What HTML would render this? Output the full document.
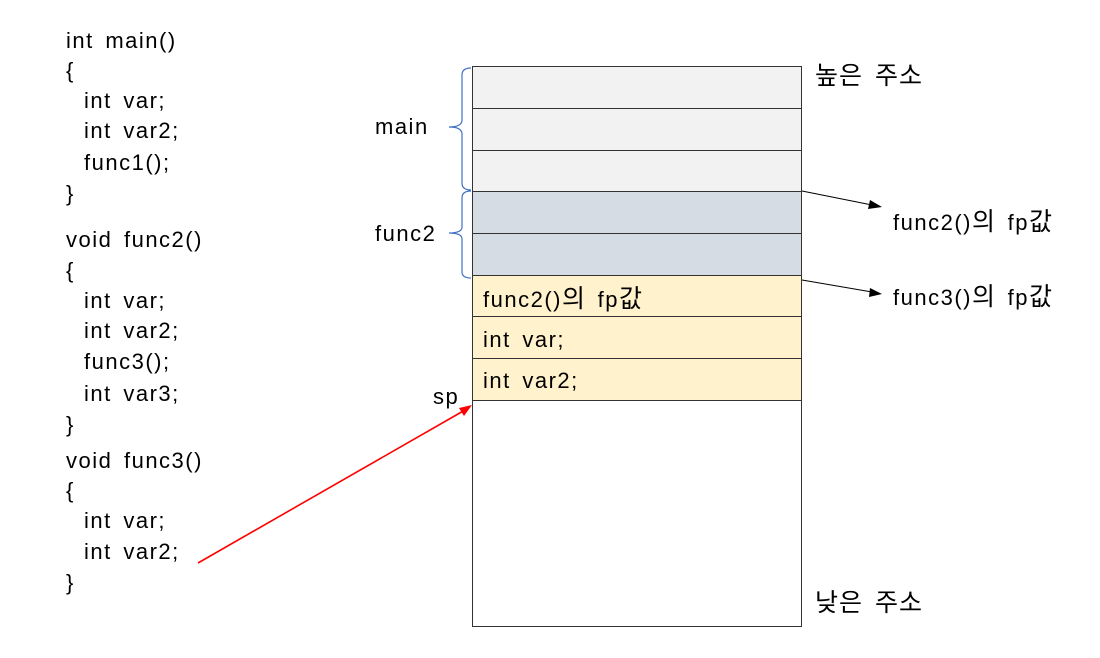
<!DOCTYPE html>
<html><head><meta charset="utf-8"><style>
body{margin:0;background:#fff;}
.t{position:absolute;font-family:"Liberation Sans","Noto Sans CJK KR",sans-serif;font-size:22px;letter-spacing:1.5px;word-spacing:4px;color:#000;white-space:pre;line-height:1;}
.k{font-size:25px;letter-spacing:1px;}
.r{position:absolute;left:472px;width:330px;box-sizing:border-box;border:1.5px solid #333;}
</style></head><body>
<div style="position:relative;width:1100px;height:658px;overflow:hidden">
<div class="r" style="top:66px;height:43px;background:#f2f2f2"></div>
<div class="r" style="top:108px;height:43px;background:#f2f2f2"></div>
<div class="r" style="top:150px;height:42px;background:#f2f2f2"></div>
<div class="r" style="top:191px;height:43px;background:#d6dce4"></div>
<div class="r" style="top:233px;height:43px;background:#d6dce4"></div>
<div class="r" style="top:275px;height:42px;background:#fff2cc"></div>
<div class="r" style="top:316px;height:43px;background:#fff2cc"></div>
<div class="r" style="top:358px;height:43px;background:#fff2cc"></div>
<div class="r" style="top:400px;height:227px;background:#fff"></div>
<svg width="1100" height="658" style="position:absolute;left:0;top:0">
<path d="M471,68 Q462,68 462,75 L462,120 Q462,127 449,127 Q462,127 462,134 L462,183 Q462,190 471,190" fill="none" stroke="#4472c4" stroke-width="1.2"/>
<path d="M471,191 Q462,191 462,198 L462,227 Q462,233 449,233 Q462,233 462,239 L462,272 Q462,278 471,278" fill="none" stroke="#4472c4" stroke-width="1.2"/>
<line x1="802" y1="191" x2="872" y2="205" stroke="#000" stroke-width="1"/>
<polygon points="882,207 870,200 868,209" fill="#000"/>
<line x1="802" y1="280" x2="872" y2="292" stroke="#000" stroke-width="1"/>
<polygon points="882,294 870,288 869,297" fill="#000"/>
<line x1="198" y1="563" x2="465" y2="410" stroke="#f00" stroke-width="1.6"/>
<polygon points="472,405 459,408 464,416" fill="#f00"/>
</svg>
<div class="t" style="left:66px;top:30px">int main()</div>
<div class="t" style="left:66px;top:60px">{</div>
<div class="t" style="left:84px;top:90px">int var;</div>
<div class="t" style="left:84px;top:120px">int var2;</div>
<div class="t" style="left:84px;top:152px">func1();</div>
<div class="t" style="left:66px;top:183px">}</div>
<div class="t" style="left:66px;top:229px">void func2()</div>
<div class="t" style="left:66px;top:260px">{</div>
<div class="t" style="left:84px;top:290px">int var;</div>
<div class="t" style="left:84px;top:320px">int var2;</div>
<div class="t" style="left:84px;top:351px">func3();</div>
<div class="t" style="left:84px;top:383px">int var3;</div>
<div class="t" style="left:66px;top:414px">}</div>
<div class="t" style="left:66px;top:450px">void func3()</div>
<div class="t" style="left:66px;top:480px">{</div>
<div class="t" style="left:84px;top:510px">int var;</div>
<div class="t" style="left:84px;top:541px">int var2;</div>
<div class="t" style="left:66px;top:572px">}</div>
<div class="t" style="left:375px;top:116px">main</div>
<div class="t" style="left:375px;top:223px">func2</div>
<div class="t" style="left:433px;top:386px">sp</div>
<div class="t" style="left:483px;top:287px">func2()<span class="k">의</span> fp<span class="k">값</span></div>
<div class="t" style="left:483px;top:329px">int var;</div>
<div class="t" style="left:483px;top:370px">int var2;</div>
<div class="t k" style="left:815px;top:64px">높은 주소</div>
<div class="t k" style="left:815px;top:591px">낮은 주소</div>
<div class="t" style="left:893px;top:210px">func2()<span class="k">의</span> fp<span class="k">값</span></div>
<div class="t" style="left:893px;top:285px">func3()<span class="k">의</span> fp<span class="k">값</span></div>
</div>
</body></html>
